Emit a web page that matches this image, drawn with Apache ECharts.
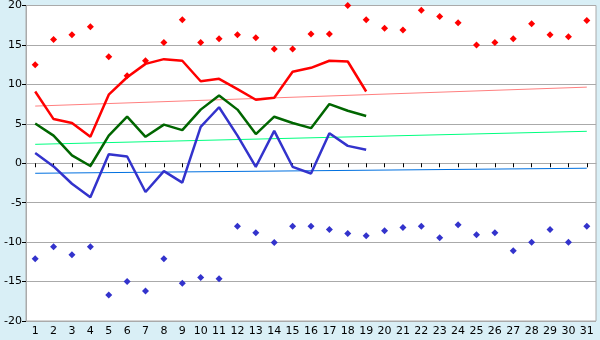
<!DOCTYPE html>
<html><head><meta charset="utf-8">
<script src="https://cdn.jsdelivr.net/npm/echarts@6/dist/echarts.min.js"></script>
<style>html,body{margin:0;padding:0;background:#d9eff6;}#c{width:600px;height:340px;}</style>
</head><body><div id="c"></div>
<script>
var days = ['1','2','3','4','5','6','7','8','9','10','11','12','13','14','15','16','17','18','19','20','21','22','23','24','25','26','27','28','29','30','31'];
var maxTemp = [9.1,5.6,5.1,3.35,8.7,10.9,12.6,13.2,13.0,10.4,10.7,9.4,8.05,8.3,11.6,12.1,13.0,12.9,9.1];
var avgTemp = [5.05,3.5,1.0,-0.35,3.5,5.9,3.35,4.9,4.2,6.8,8.6,6.8,3.7,5.9,5.1,4.45,7.5,6.65,6.0];
var minTemp = [1.3,-0.4,-2.6,-4.3,1.15,0.85,-3.65,-1.0,-2.45,4.6,7.1,3.5,-0.45,4.1,-0.45,-1.3,3.8,2.2,1.7];
var recordHigh = [12.5,15.7,16.3,17.3,13.5,11.1,13.0,15.3,18.2,15.3,15.8,16.3,15.9,14.5,14.5,16.4,16.4,20.0,18.2,17.1,16.9,19.4,18.6,17.8,15.0,15.3,15.8,17.7,16.3,16.05,18.1];
var recordLow = [-12.1,-10.6,-11.6,-10.6,-16.7,-15.0,-16.2,-12.1,-15.2,-14.5,-14.65,-8.0,-8.8,-10.05,-8.0,-8.0,-8.4,-8.9,-9.2,-8.55,-8.15,-8.0,-9.45,-7.8,-9.05,-8.8,-11.1,-10.0,-8.4,-10.0,-8.0];
// trend lines: values at first and last day
var trendMaxEnds = [7.25, 9.65];
var trendAvgEnds = [2.4, 4.05];
var trendMinEnds = [-1.27, -0.63];
var yTicks = [-20,-15,-10,-5,0,5,10,15,20];

function ends(e){ var a = days.map(function(){return null;}); a[0]=e[0]; a[days.length-1]=e[1]; return a; }

var chart = echarts.init(document.getElementById('c'));
var lineBase = {type:'line', showSymbol:false, symbol:'none', animation:false, z:3};
chart.setOption({
  animation:false,
  backgroundColor:'#d9eff6',
  textStyle:{fontFamily:'DejaVu Sans'},
  grid:{left:26,right:4,top:5,bottom:19,show:true,backgroundColor:'#ffffff',borderColor:'#aaaaaa',borderWidth:1},
  xAxis:{type:'category',data:days,boundaryGap:true,
    axisLine:{show:true,lineStyle:{color:'#aaaaaa'}},
    axisTick:{show:true,alignWithLabel:true,length:4,lineStyle:{color:'#000'}},
    axisLabel:{color:'#000',fontSize:11,margin:5,interval:0,fontFamily:'DejaVu Sans'},
    splitLine:{show:false}},
  yAxis:{type:'value',min:yTicks[0],max:yTicks[yTicks.length-1],interval:5,
    axisLine:{show:true,lineStyle:{color:'#aaaaaa'}},
    axisTick:{show:true,length:4,lineStyle:{color:'#000'}},
    axisLabel:{color:'#000',fontSize:11,margin:4,fontFamily:'DejaVu Sans'},
    splitLine:{show:true,lineStyle:{color:'#aaaaaa',width:1}}},
  series:[
    Object.assign({},lineBase,{name:'trendMax',data:ends(trendMaxEnds),connectNulls:true,lineStyle:{color:'#ff8080',width:1},z:2}),
    Object.assign({},lineBase,{name:'trendAvg',data:ends(trendAvgEnds),connectNulls:true,lineStyle:{color:'#00ff80',width:1},z:2}),
    Object.assign({},lineBase,{name:'trendMin',data:ends(trendMinEnds),connectNulls:true,lineStyle:{color:'#0070e0',width:1},z:2}),
    Object.assign({},lineBase,{name:'max',data:maxTemp,lineStyle:{color:'#ff0000',width:2.5}}),
    Object.assign({},lineBase,{name:'avg',data:avgTemp,lineStyle:{color:'#006600',width:2.5}}),
    Object.assign({},lineBase,{name:'min',data:minTemp,lineStyle:{color:'#3333cc',width:2.5}}),
    {type:'scatter',name:'recHigh',data:recordHigh,symbol:'diamond',symbolSize:7,itemStyle:{color:'#ff0000',opacity:1},z:4},
    {type:'scatter',name:'recLow',data:recordLow,symbol:'diamond',symbolSize:7,itemStyle:{color:'#3333cc',opacity:1},z:4}
  ]
});
</script></body></html>
